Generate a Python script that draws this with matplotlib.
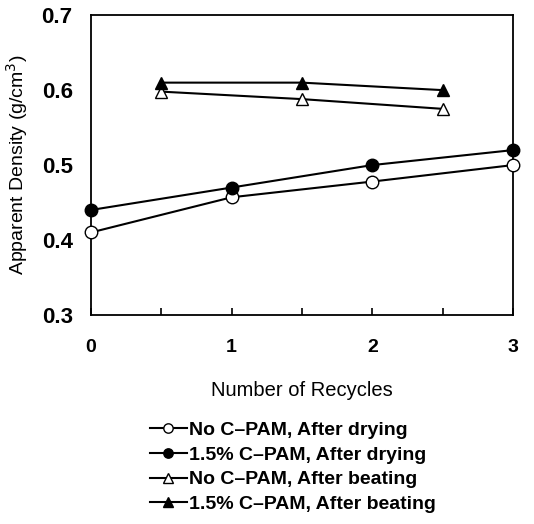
import matplotlib
matplotlib.use("Agg")
import matplotlib.pyplot as plt

# данные
recycles_dry = [0, 1, 2, 3]
no_cpam_dry = [0.41, 0.457, 0.478, 0.50]
cpam_dry = [0.44, 0.47, 0.50, 0.52]

recycles_beat = [0.5, 1.5, 2.5]
no_cpam_beat = [0.598, 0.588, 0.575]
cpam_beat = [0.61, 0.61, 0.60]

labels = ['No C\u2013PAM, After drying', '1.5% C\u2013PAM, After drying',
          'No C\u2013PAM, After beating', '1.5% C\u2013PAM, After beating']

plt.rcParams['font.family'] = ['Liberation Sans', 'DejaVu Sans']

fig = plt.figure(figsize=(5.34, 5.24), dpi=100)
ax = fig.add_axes([0.170, 0.399, 0.791, 0.572])

common = dict(color='black', lw=1.5, markersize=9, clip_on=False, zorder=3)
ax.plot(recycles_dry, no_cpam_dry, marker='o', mfc='white', mec='black', label=labels[0], **common)
ax.plot(recycles_dry, cpam_dry, marker='o', mfc='black', mec='black', label=labels[1], **common)
ax.plot(recycles_beat, no_cpam_beat, marker='^', mfc='white', mec='black', label=labels[2], **common)
ax.plot(recycles_beat, cpam_beat, marker='^', mfc='black', mec='black', label=labels[3], **common)

ax.set_xlim(0, 3)
ax.set_ylim(0.3, 0.7)
ax.set_xticks([0, 0.5, 1, 1.5, 2, 2.5, 3])
ax.set_xticklabels(['0', '', '1', '', '2', '', '3'], fontsize=14, fontweight='bold')
ax.set_yticks([0.3, 0.4, 0.5, 0.6, 0.7])
ax.set_yticklabels(['0.3', '0.4', '0.5', '0.6', '0.7'], fontsize=16, fontweight='bold')
ax.tick_params(axis='x', direction='in', length=5, width=1.2, pad=17)
ax.tick_params(axis='y', length=0, pad=13)
for s in ax.spines.values():
    s.set_linewidth(1.3)

ax.set_xlabel('Number of Recycles', fontsize=14.5, labelpad=18)
ax.set_ylabel('Apparent Density (g/cm$^3$)', fontsize=14, labelpad=8)

handles, labs = ax.get_legend_handles_labels()
fig.legend(handles, labs, loc='upper left', bbox_to_anchor=(0.262, 0.214),
           frameon=False, handlelength=1.9, handletextpad=0.15, labelspacing=0.36,
           prop={'size': 14, 'weight': 'bold'}, markerscale=0.75, borderpad=0)

fig.savefig('out.png', dpi=100)
